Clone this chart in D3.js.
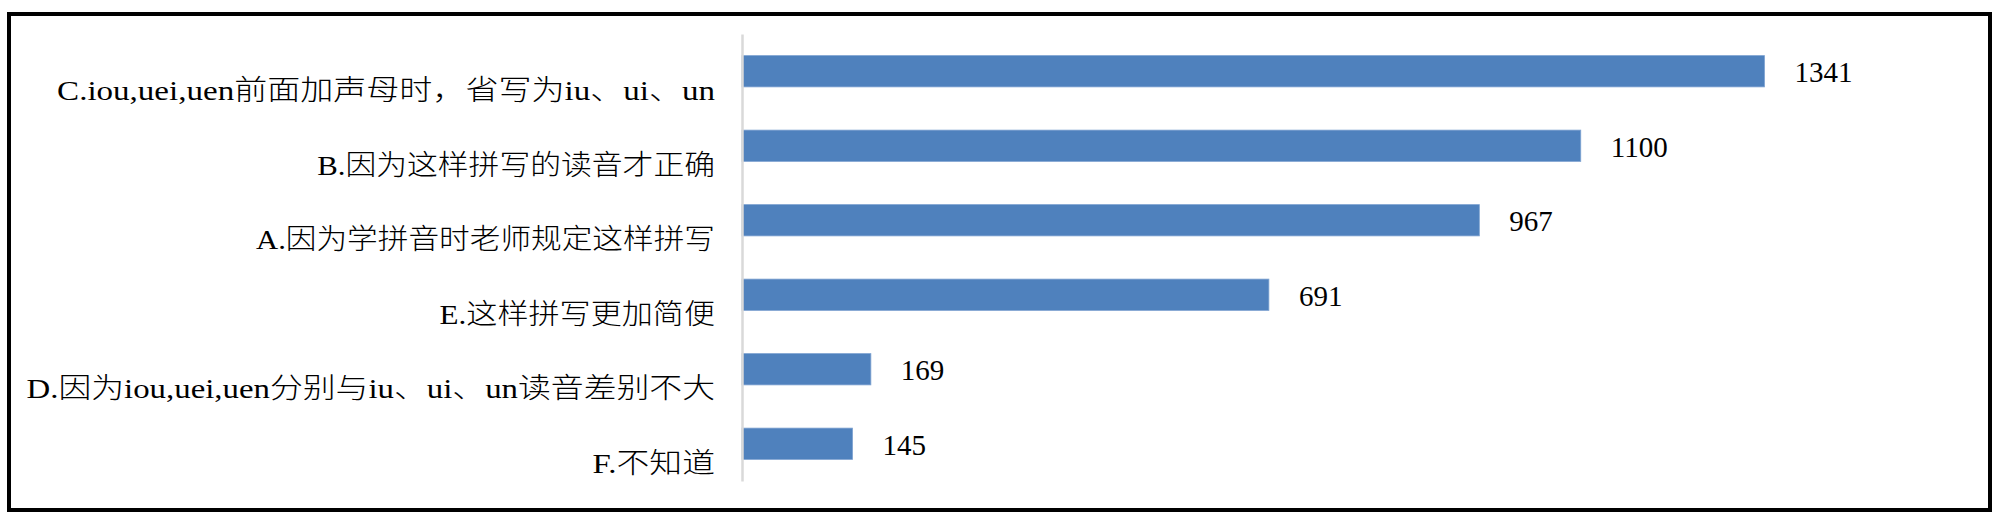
<!DOCTYPE html>
<html>
<head>
<meta charset="utf-8">
<script src="https://cdn.jsdelivr.net/npm/d3@7"></script>
<style>
  html, body { margin: 0; padding: 0; background: #fff; }
  svg { display: block; }
</style>
</head>
<body>
<svg id="chart" width="2000" height="518"></svg>
<script>
const categories = [
  "C.iou,uei,uen前面加声母时，省写为iu、ui、un",
  "B.因为这样拼写的读音才正确",
  "A.因为学拼音时老师规定这样拼写",
  "E.这样拼写更加简便",
  "D.因为iou,uei,uen分别与iu、ui、un读音差别不大",
  "F.不知道"
];
const values = [1341, 1100, 967, 691, 169, 145];
const xDomain = [0, 1600];

const svg = d3.select("#chart");

// outer frame
svg.append("rect")
  .attr("x", 9).attr("y", 14)
  .attr("width", 1981).attr("height", 496)
  .attr("fill", "#fff")
  .attr("stroke", "#000")
  .attr("stroke-width", 4);

const x = d3.scaleLinear().domain(xDomain).range([742, 1962]);
const y = d3.scaleBand().domain(categories).range([34, 481]).paddingInner(0.58).paddingOuter(0.29);

// bars
svg.append("g").selectAll("rect")
  .data(categories)
  .join("rect")
  .attr("x", x(0))
  .attr("y", d => y(d))
  .attr("width", (d, i) => x(values[i]) - x(0))
  .attr("height", y.bandwidth())
  .attr("fill", "#4F81BD")
  .attr("stroke", "#7FA3D1")
  .attr("stroke-width", 0.8);

// vertical category axis line
const yAxis = d3.axisLeft(y).tickSize(0).tickFormat("");
const gAxis = svg.append("g").attr("transform", `translate(${x(0)},0)`).call(yAxis);
gAxis.select(".domain").attr("stroke", "#D9D9D9").attr("stroke-width", 2.5);

// category labels (drawn slightly below bar centres, as in the reference)
const em = 30.6;
function emWidth(s) {
  let w = 0;
  for (const ch of s) w += ch.charCodeAt(0) > 255 ? 1 : 0.5;
  return w * em;
}
svg.append("g").selectAll("text")
  .data(categories)
  .join("text")
  .attr("x", 715)
  .attr("y", d => y(d) + y.bandwidth() / 2 + 19)
  .attr("dy", "0.35em")
  .attr("text-anchor", "end")
  .attr("font-family", "'Liberation Serif', 'Noto Sans CJK SC', serif")
  .attr("font-size", 28)
  .attr("font-weight", 300)
  .attr("fill", "#000")
  .attr("textLength", d => emWidth(d))
  .attr("lengthAdjust", "spacingAndGlyphs")
  .text(d => d);

// value labels
svg.append("g").selectAll("text")
  .data(categories)
  .join("text")
  .attr("x", (d, i) => x(values[i]) + 30)
  .attr("y", d => y(d) + y.bandwidth() / 2 + 1)
  .attr("dy", "0.35em")
  .attr("font-family", "'Liberation Serif', serif")
  .attr("font-size", 29)
  .attr("fill", "#000")
  .text((d, i) => values[i]);
</script>
</body>
</html>
